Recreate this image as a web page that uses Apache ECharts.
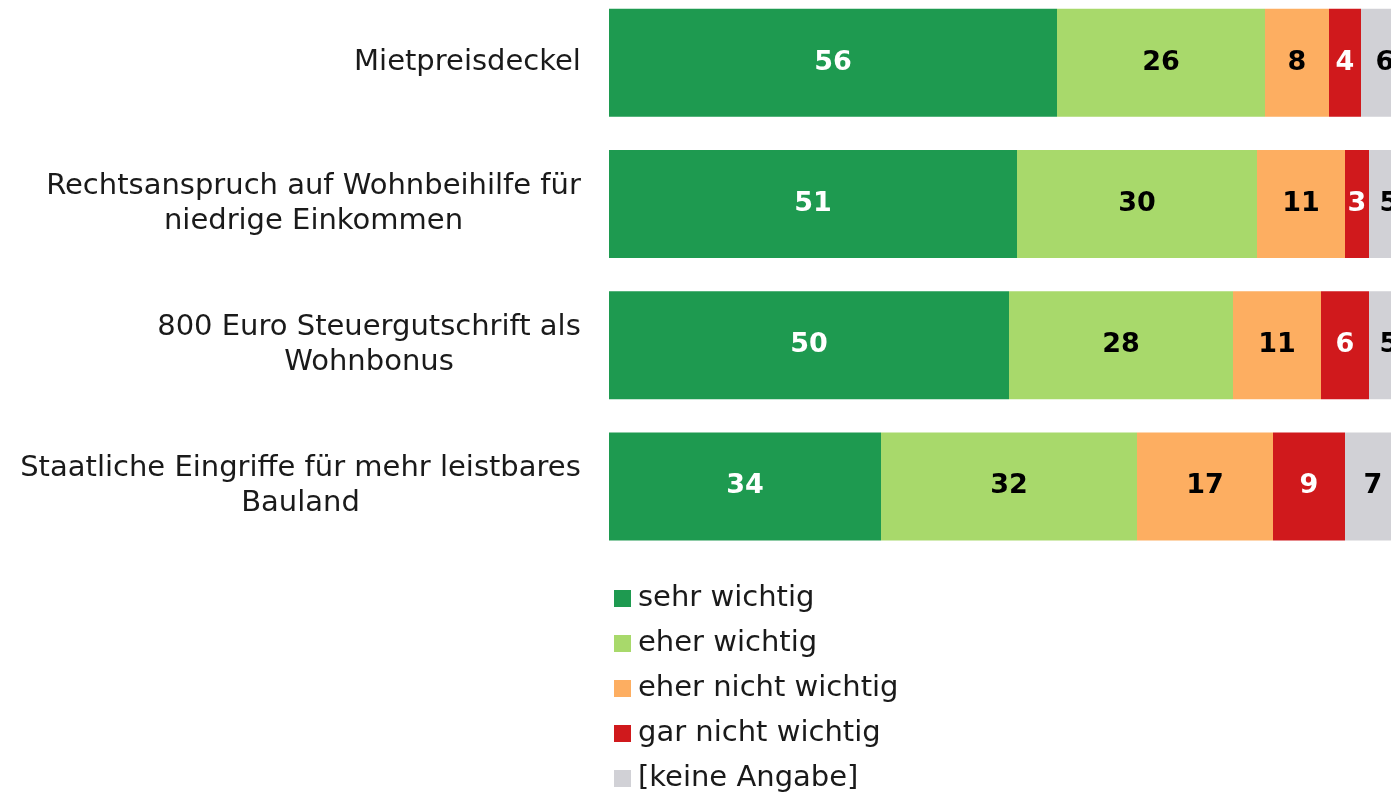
<!DOCTYPE html>
<html>
<head>
<meta charset="utf-8">
<script src="https://cdn.jsdelivr.net/npm/echarts@6/dist/echarts.min.js"></script>
<style>html,body{margin:0;padding:0;background:#fff;}#chart{width:1391px;height:796px;}</style>
</head>
<body>
<div id="chart"></div>
<script>
const categories = [
  "Mietpreisdeckel",
  "Rechtsanspruch auf Wohnbeihilfe für\nniedrige Einkommen",
  "800 Euro Steuergutschrift als\nWohnbonus",
  "Staatliche Eingriffe für mehr leistbares\nBauland"
];
const seriesNames = ["sehr wichtig", "eher wichtig", "eher nicht wichtig", "gar nicht wichtig", "[keine Angabe]"];
const sehrWichtig = [56, 51, 50, 34];
const eherWichtig = [26, 30, 28, 32];
const eherNichtWichtig = [8, 11, 11, 17];
const garNichtWichtig = [4, 3, 6, 9];
const keineAngabe = [6, 5, 5, 7];

const colors = ["#1e9a50", "#a8d96b", "#fdae61", "#d0191c", "#d1d1d6"];
const labelColors = ["#ffffff", "#000000", "#000000", "#ffffff", "#000000"];
const FONT = "DejaVu Sans";
const CAT_SIZE = 29;

// measure widest line of each category to center lines within right-aligned block
const ctx = document.createElement('canvas').getContext('2d');
ctx.font = CAT_SIZE + 'px "' + FONT + '"';
const rich = {};
categories.forEach((c, i) => {
  const w = Math.max(...c.split('\n').map(s => ctx.measureText(s).width));
  rich['r' + i] = { width: Math.ceil(w), align: 'center', fontSize: CAT_SIZE, fontFamily: FONT, color: '#1a1a1a', lineHeight: 35 };
});

const allData = [sehrWichtig, eherWichtig, eherNichtWichtig, garNichtWichtig, keineAngabe];
const chart = echarts.init(document.getElementById('chart'), null, { renderer: 'canvas' });
chart.setOption({
  animation: false,
  color: colors,
  grid: { left: 609, width: 800, top: -8, height: 565, containLabel: false, outerBoundsMode: 'none' },
  xAxis: { type: 'value', min: 0, max: 100, show: false },
  yAxis: {
    type: 'category', data: categories, inverse: true,
    axisLine: { show: false }, axisTick: { show: false },
    axisLabel: {
      margin: 28, align: 'right',
      formatter: function (v, idx) {
        return v.split('\n').map(s => '{r' + idx + '|' + s + '}').join('\n');
      },
      rich: rich
    }
  },
  legend: {
    orient: 'vertical', left: 614, top: 584, padding: 0, height: 260,
    itemWidth: 17, itemHeight: 17, itemGap: 16,
    icon: 'rect',
    textStyle: { fontSize: CAT_SIZE, fontFamily: FONT, color: '#1a1a1a', padding: [0, 0, 0, 2] },
    data: seriesNames
  },
  series: allData.map((d, i) => ({
    name: seriesNames[i], type: 'bar', stack: 'total', barWidth: 108,
    data: d,
    itemStyle: { color: colors[i] },
    label: {
      show: true, position: 'inside', color: labelColors[i],
      fontFamily: FONT, fontWeight: 'bold', fontSize: 27
    }
  }))
});
</script>
</body>
</html>
